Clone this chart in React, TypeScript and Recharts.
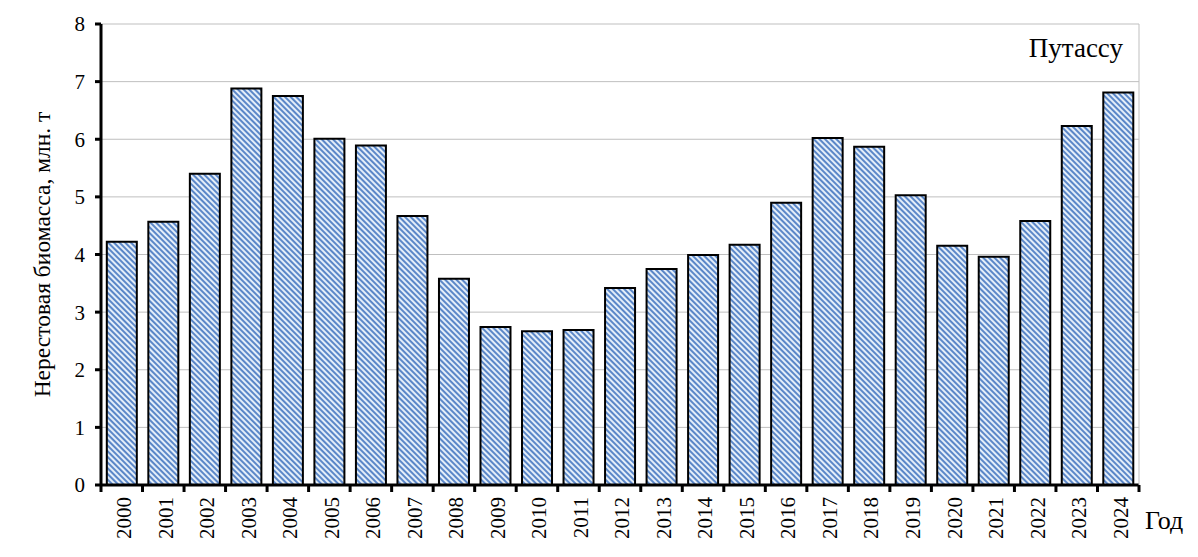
import React from 'react';
import { BarChart, Bar, XAxis, YAxis, CartesianGrid } from 'recharts';

const years = ['2000','2001','2002','2003','2004','2005','2006','2007','2008','2009','2010','2011','2012','2013','2014','2015','2016','2017','2018','2019','2020','2021','2022','2023','2024'];
const biomass = [4.22,4.57,5.40,6.88,6.75,6.01,5.89,4.67,3.58,2.74,2.67,2.69,3.42,3.75,3.99,4.17,4.90,6.02,5.87,5.03,4.15,3.96,4.58,6.23,6.81];
const yTicks = [0,1,2,3,4,5,6,7,8];
const yTitle = 'Нерестовая биомасса, млн. т';
const xTitle = 'Год';
const seriesTitle = 'Путассу';

const data = years.map((y, i) => ({ year: y, value: biomass[i] }));

const FONT = '"Liberation Serif", "Times New Roman", serif';
const W = 1190;
const H = 549;
const M = { top: 16, right: 58, left: 33, bottom: 12 };
const Y_W = 60;
const X_H = 60;
const plotW = W - M.left - M.right - Y_W - 1;

const XTick = (props: any) => {
  const { x, y, payload, index } = props;
  const band = plotW / years.length;
  const last = index === years.length - 1;
  return (
    <g>
      <line x1={x - band / 2} x2={x - band / 2} y1={y} y2={y + 7} stroke="#000" strokeWidth={3} />
      {last && <line x1={x + band / 2} x2={x + band / 2} y1={y} y2={y + 7} stroke="#000" strokeWidth={3} />}
      <text
        x={0}
        y={0}
        transform={`translate(${x + 2},${y + 12}) rotate(-90)`}
        textAnchor="end"
        dy="0.35em"
        fontFamily={FONT}
        fontSize={21}
        fill="#000"
      >
        {payload.value}
      </text>
    </g>
  );
};

export default function App() {
  return (
    <div style={{ width: W, height: H }}>
      <BarChart width={W} height={H} data={data} margin={M} barCategoryGap="14%">
        <defs>
          <pattern id="stripes" patternUnits="userSpaceOnUse" width="4" height="4" patternTransform="rotate(-45)">
            <rect x="0" y="0" width="4" height="4" fill="#E4EEF9" />
            <rect x="0" y="0" width="2" height="4" fill="#5B87C8" />
          </pattern>
        </defs>
        <CartesianGrid vertical={false} stroke="#BFBFBF" strokeWidth={1} yAxisId="left" />
        <XAxis
          dataKey="year"
          height={X_H}
          interval={0}
          tickLine={false}
          tickSize={0}
          tickMargin={0}
          axisLine={{ stroke: '#000', strokeWidth: 3 }}
          tick={<XTick />}
          label={(p: any) => {
            const vb = p.viewBox;
            return (
              <text x={vb.x + vb.width + 6} y={vb.y + 44} fontFamily={FONT} fontSize={26} fill="#000">
                {xTitle}
              </text>
            );
          }}
        />
        <YAxis
          yAxisId="left"
          width={Y_W}
          domain={[0, 8]}
          ticks={yTicks}
          interval={0}
          tickSize={6}
          tickMargin={10}
          tickLine={{ stroke: '#000', strokeWidth: 3 }}
          axisLine={{ stroke: '#000', strokeWidth: 3 }}
          tick={{ fontFamily: FONT, fontSize: 21, fill: '#000' }}
          label={(p: any) => {
            const vb = p.viewBox;
            const cx = 34;
            const cy = vb.y + vb.height / 2;
            return (
              <text
                x={cx}
                y={cy}
                transform={`rotate(-90 ${cx} ${cy})`}
                textAnchor="middle"
                dominantBaseline="central"
                fontFamily={FONT}
                fontSize={23.5}
                fill="#000"
              >
                {yTitle}
              </text>
            );
          }}
        />
        <YAxis
          yAxisId="right"
          orientation="right"
          width={1}
          domain={[0, 8]}
          tick={false}
          tickLine={false}
          axisLine={{ stroke: '#BFBFBF', strokeWidth: 1 }}
          label={(p: any) => {
            const vb = p.viewBox;
            return (
              <text x={vb.x - 16} y={vb.y + 33} textAnchor="end" fontFamily={FONT} fontSize={27} fill="#000">
                {seriesTitle}
              </text>
            );
          }}
        />
        <Bar yAxisId="left" dataKey="value" fill="url(#stripes)" stroke="#000" strokeWidth={2} isAnimationActive={false} />
      </BarChart>
    </div>
  );
}
